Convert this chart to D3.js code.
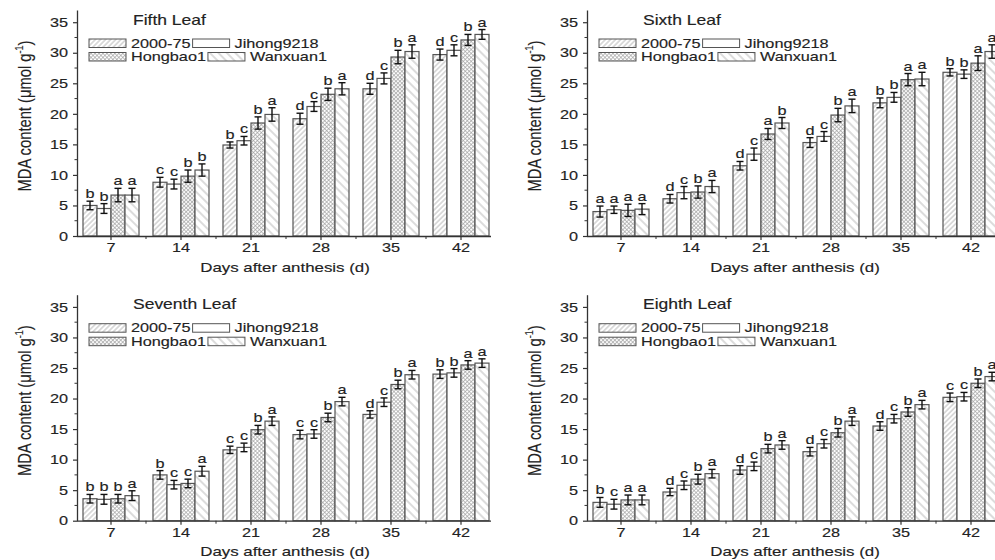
<!DOCTYPE html>
<html>
<head>
<meta charset="utf-8">
<script src="https://cdn.jsdelivr.net/npm/d3@7"></script>
<style>
  body { margin: 0; background: #fff; }
  svg { display: block; font-family: "Liberation Sans", Arial, sans-serif; }
  text { stroke: #222; stroke-width: 0.15px; }
</style>
</head>
<body>
<svg id="chart" width="995" height="560"></svg>
<script>
const days = ["7", "14", "21", "28", "35", "42"]
const cultivars = ["2000-75", "Jihong9218", "Hongbao1", "Wanxuan1"]
const yTicks = [0, 5, 10, 15, 20, 25, 30, 35]

// mean MDA per day, one row per day, columns in cultivar order
const fifthMean = [[5.0, 4.5, 6.7, 6.7], [8.8, 8.5, 9.8, 10.8], [14.9, 15.6, 18.5, 19.9],
  [19.2, 21.2, 23.2, 24.1], [24.1, 25.8, 29.3, 30.2], [29.7, 30.4, 32.1, 33.0]]
const fifthErr = [[0.7, 0.8, 1.1, 1.1], [0.8, 0.8, 1.0, 1.0], [0.5, 0.7, 1.0, 1.1],
  [0.9, 0.8, 1.0, 1.0], [0.9, 0.9, 1.1, 1.1], [0.9, 0.9, 0.9, 0.8]]
const fifthSig = [["b", "b", "a", "a"], ["c", "c", "b", "b"], ["b", "c", "b", "a"],
  ["d", "c", "b", "a"], ["d", "c", "b", "a"], ["d", "c", "b", "a"]]

const sixthMean = [[4.0, 4.3, 4.2, 4.4], [6.1, 7.1, 7.2, 8.1], [11.5, 13.4, 16.7, 18.5],
  [15.3, 16.3, 19.8, 21.3], [21.8, 22.7, 25.6, 25.7], [26.8, 26.5, 28.3, 30.2]]
const sixthErr = [[0.9, 0.6, 1.0, 0.9], [0.7, 1.0, 1.0, 1.0], [0.7, 1.0, 0.9, 0.9],
  [0.8, 0.8, 1.1, 1.1], [0.8, 0.8, 1.0, 1.1], [0.6, 0.7, 1.2, 1.1]]
const sixthSig = [["a", "a", "a", "a"], ["d", "c", "b", "a"], ["d", "c", "a", "b"],
  ["d", "c", "b", "a"], ["b", "b", "a", "a"], ["b", "b", "a", "a"]]

const seventhMean = [[3.6, 3.5, 3.6, 4.1], [7.5, 5.9, 6.1, 8.1], [11.6, 12.0, 14.9, 16.3],
  [14.1, 14.2, 16.9, 19.5], [17.4, 19.4, 22.3, 23.9], [24.0, 24.2, 25.5, 25.8]]
const seventhErr = [[0.7, 0.8, 0.7, 0.8], [0.7, 0.7, 0.7, 0.8], [0.6, 0.7, 0.7, 0.7],
  [0.7, 0.7, 0.7, 0.7], [0.6, 0.7, 0.7, 0.7], [0.7, 0.7, 0.7, 0.7]]
const seventhSig = [["b", "b", "b", "a"], ["b", "c", "c", "a"], ["c", "c", "b", "a"],
  ["c", "c", "b", "a"], ["d", "c", "b", "a"], ["b", "b", "a", "a"]]

const eighthMean = [[3.0, 2.7, 3.4, 3.4], [4.7, 5.8, 6.8, 7.7], [8.3, 8.9, 11.8, 12.4],
  [11.3, 12.6, 14.4, 16.3], [15.5, 16.7, 17.8, 19.0], [20.2, 20.3, 22.5, 23.6]]
const eighthErr = [[0.8, 0.8, 0.8, 0.8], [0.6, 0.7, 0.8, 0.7], [0.7, 0.7, 0.7, 0.7],
  [0.7, 0.7, 0.7, 0.7], [0.7, 0.7, 0.7, 0.7], [0.7, 0.7, 0.7, 0.7]]
const eighthSig = [["b", "c", "a", "a"], ["d", "c", "b", "a"], ["d", "c", "b", "a"],
  ["d", "c", "b", "a"], ["d", "c", "b", "a"], ["c", "c", "b", "a"]]

const panels = [
  { title: "Fifth Leaf", mean: fifthMean, err: fifthErr, sig: fifthSig, ox: 0, oy: 0 },
  { title: "Sixth Leaf", mean: sixthMean, err: sixthErr, sig: sixthSig, ox: 510, oy: 0 },
  { title: "Seventh Leaf", mean: seventhMean, err: seventhErr, sig: seventhSig, ox: 0, oy: 284.7 },
  { title: "Eighth Leaf", mean: eighthMean, err: eighthErr, sig: eighthSig, ox: 510, oy: 284.7 }
]

const STRETCH = 1.25   // text in the source is widened horizontally
const INK = "#222"
const svg = d3.select("#chart")
const defs = svg.append("defs")

// fill patterns
const hatch = (id, angle, gap, cross, color) => {
  const p = defs.append("pattern").attr("id", id)
    .attr("patternUnits", "userSpaceOnUse")
    .attr("width", gap).attr("height", gap)
    .attr("patternTransform", `rotate(${angle})`)
  p.append("rect").attr("width", gap).attr("height", gap).attr("fill", "#fff")
  p.append("line").attr("x1", gap / 2).attr("x2", gap / 2).attr("y1", 0).attr("y2", gap)
    .attr("stroke", color).attr("stroke-width", 0.7)
  if (cross) p.append("line").attr("y1", gap / 2).attr("y2", gap / 2).attr("x1", 0).attr("x2", gap)
    .attr("stroke", color).attr("stroke-width", 0.7)
}
hatch("fwd", 45, 3.6, false, "#9a9a9a")
hatch("grid", 45, 2.8, true, "#a2a2a2")
hatch("back", -45, 6, false, "#9a9a9a")
const fills = ["url(#fwd)", "#fff", "url(#grid)", "url(#back)"]

const x = d3.scaleBand().domain(days).range([76, 496])
const sub = d3.scaleBand().domain(cultivars).range([0, 56])
const y = d3.scaleLinear().domain([0, 37]).range([236, 10])

const stretched = (sel) => sel.attr("transform", function () {
  const t = d3.select(this).attr("data-pos")
  return `${t || ""} scale(${STRETCH},1)`
})

panels.forEach(panel => {
  const g = svg.append("g").attr("transform", `translate(${panel.ox},${panel.oy})`)

  // bars
  const rows = panel.mean.flatMap((row, i) => row.map((v, j) => ({
    day: days[i], cult: cultivars[j], j, v, e: panel.err[i][j], s: panel.sig[i][j]
  })))

  g.append("g").selectAll("rect").data(rows).join("rect")
    .attr("x", d => x(d.day) + 7 + sub(d.cult))
    .attr("width", sub.bandwidth())
    .attr("y", d => y(d.v))
    .attr("height", d => y(0) - y(d.v))
    .attr("fill", d => fills[d.j])
    .attr("stroke", "#555").attr("stroke-width", 1.2)

  // error bars
  const eb = g.append("g").attr("stroke", "#111").attr("stroke-width", 1.4)
  const cx = d => x(d.day) + 7 + sub(d.cult) + sub.bandwidth() / 2
  eb.selectAll(".v").data(rows).join("line").attr("class", "v")
    .attr("x1", cx).attr("x2", cx)
    .attr("y1", d => y(d.v - d.e)).attr("y2", d => y(d.v + d.e))
  eb.selectAll(".t").data(rows).join("line").attr("class", "t")
    .attr("x1", d => cx(d) - 3.5).attr("x2", d => cx(d) + 3.5)
    .attr("y1", d => y(d.v + d.e)).attr("y2", d => y(d.v + d.e))
  eb.selectAll(".b").data(rows).join("line").attr("class", "b")
    .attr("x1", d => cx(d) - 3.5).attr("x2", d => cx(d) + 3.5)
    .attr("y1", d => y(d.v - d.e)).attr("y2", d => y(d.v - d.e))

  // significance letters
  g.append("g").selectAll("text").data(rows).join("text")
    .attr("data-pos", d => `translate(${cx(d)},${y(d.v + d.e) - 3})`)
    .attr("text-anchor", "middle").attr("font-size", 13).attr("fill", INK)
    .text(d => d.s)
    .call(stretched)

  // y axis
  const ya = g.append("g").attr("transform", "translate(77,0)")
    .call(d3.axisLeft(y).tickValues(yTicks).tickSize(4).tickSizeOuter(0))
  ya.selectAll("text").attr("x", -7.2).attr("font-size", 13).attr("fill", INK)
    .attr("font-family", "Liberation Sans, Arial, sans-serif")
    .attr("transform", `scale(${STRETCH},1)`)
  ya.selectAll("line").attr("stroke", "#333").attr("stroke-width", 1.2)
  ya.select(".domain").attr("stroke", "#333").attr("stroke-width", 1.3)
  ya.selectAll(".minor").data(d3.range(2.5, 36, 5)).join("line").attr("class", "minor")
    .attr("x1", 0).attr("x2", -2.5).attr("y1", d => y(d)).attr("y2", d => y(d))
    .attr("stroke", "#333").attr("stroke-width", 1)

  // x axis
  const xa = g.append("g").attr("transform", "translate(0,236)")
    .call(d3.axisBottom(x).tickSize(4).tickSizeOuter(0))
  xa.select(".domain").attr("d", "M77,0.5H491").attr("stroke", "#333").attr("stroke-width", 1.3)
  xa.selectAll("line").attr("stroke", "#333").attr("stroke-width", 1.2)
  xa.selectAll("text").attr("font-size", 13).attr("fill", INK)
    .attr("font-family", "Liberation Sans, Arial, sans-serif")
    .attr("transform", `scale(${STRETCH},1)`)
  xa.selectAll(".minor").data(days.slice(1)).join("line").attr("class", "minor")
    .attr("x1", d => x(d)).attr("x2", d => x(d)).attr("y1", 0).attr("y2", 3)
    .attr("stroke", "#333").attr("stroke-width", 1)

  // axis titles
  g.append("text")
    .attr("data-pos", "translate(285,271.5)")
    .attr("text-anchor", "middle").attr("font-size", 13.5).attr("fill", INK)
    .text("Days after anthesis (d)")
    .call(stretched)

  const yl = g.append("text")
    .attr("transform", "translate(31,116) rotate(-90) scale(0.82,1)")
    .attr("text-anchor", "middle").attr("font-size", 18).attr("fill", INK)
  yl.append("tspan").text("MDA content (μmol g")
  yl.append("tspan").attr("font-size", 11).attr("dy", -8).text("-1")
  yl.append("tspan").attr("dy", 8).text(")")

  // panel title
  g.append("text")
    .attr("data-pos", "translate(133,24.5)")
    .attr("font-size", 14).attr("fill", INK)
    .text(panel.title)
    .call(stretched)

  // legend: two rows, second column starts right after the first label
  const rowsY = [39, 52.5]
  const lg = g.append("g")
  ;[[0, 1], [2, 3]].forEach((pair, r) => {
    let sx = 89
    pair.forEach(j => {
      lg.append("rect").attr("x", sx).attr("y", rowsY[r])
        .attr("width", 37).attr("height", 8.5)
        .attr("fill", fills[j]).attr("stroke", "#555").attr("stroke-width", 1)
      const t = lg.append("text")
        .attr("data-pos", `translate(${sx + 42},${rowsY[r] + 8.5})`)
        .attr("font-size", 13).attr("fill", INK)
        .text(cultivars[j])
        .call(stretched)
      sx = sx + 42 + t.node().getComputedTextLength() * STRETCH + 2
    })
  })
})
</script>
</body>
</html>
